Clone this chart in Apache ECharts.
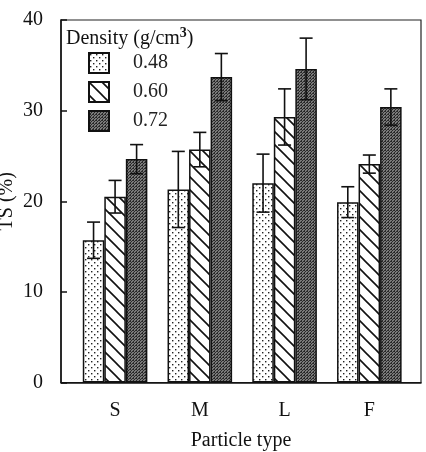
<!DOCTYPE html>
<html>
<head>
<meta charset="utf-8">
<script src="https://cdn.jsdelivr.net/npm/echarts@6/dist/echarts.min.js"></script>
<style>
  html, body { margin: 0; padding: 0; background: #fff; }
  #chart { width: 426px; height: 452px; }
</style>
</head>
<body>
<div id="chart"></div>
<script>
const categories = ['S', 'M', 'L', 'F'];
const densities = ['0.48', '0.60', '0.72'];
const ts048 = [15.7, 21.3, 22.0, 19.9];
const ts060 = [20.5, 25.7, 29.3, 24.1];
const ts072 = [24.65, 33.7, 34.6, 30.4];
const err048 = [2.0, 4.2, 3.2, 1.7];
const err060 = [1.8, 1.9, 3.1, 1.0];
const err072 = [1.6, 2.6, 3.4, 2.0];
const yTicks = [0, 10, 20, 30, 40];

const FONT = '"Liberation Serif", "DejaVu Serif", serif';
const FS = 20;
const BAR_PCT = 25.4;

// fill patterns
function dotted() {
  const c = document.createElement('canvas');
  c.width = 6; c.height = 6;
  const g = c.getContext('2d');
  g.fillStyle = '#fff'; g.fillRect(0, 0, 6, 6);
  g.fillStyle = '#222';
  g.fillRect(1, 1, 1.4, 1.4);
  g.fillRect(4, 4, 1.4, 1.4);
  return c;
}
function hatched() {
  const s = 13;
  const c = document.createElement('canvas');
  c.width = s; c.height = s;
  const g = c.getContext('2d');
  g.fillStyle = '#fff'; g.fillRect(0, 0, s, s);
  g.strokeStyle = '#111'; g.lineWidth = 1.6;
  g.beginPath();
  g.moveTo(-2, -2); g.lineTo(s + 2, s + 2);
  g.moveTo(-2, s - 2); g.lineTo(2, s + 2);
  g.moveTo(s - 2, -2); g.lineTo(s + 2, 2);
  g.stroke();
  return c;
}
function dark() {
  const c = document.createElement('canvas');
  c.width = 3; c.height = 3;
  const g = c.getContext('2d');
  g.fillStyle = '#7a7a7a'; g.fillRect(0, 0, 3, 3);
  g.fillStyle = '#2a2a2a';
  g.fillRect(0, 0, 1, 1); g.fillRect(2, 1, 1, 1); g.fillRect(1, 2, 1, 1);
  g.fillRect(1, 0, 1, 1);
  return c;
}

const fills = [dotted(), hatched(), dark()];
const means = [ts048, ts060, ts072];
const errs = [err048, err060, err072];

const errData = [];
for (let k = 0; k < 3; k++) {
  for (let i = 0; i < categories.length; i++) {
    errData.push([i, k, means[k][i], errs[k][i]]);
  }
}

const chart = echarts.init(document.getElementById('chart'));

const barSeries = densities.map((d, k) => ({
  name: d,
  type: 'bar',
  xAxisIndex: 1,
  yAxisIndex: 1,
  data: means[k],
  barWidth: BAR_PCT + '%',
  barGap: '0%',
  itemStyle: {
    color: { image: fills[k], repeat: 'repeat' },
    borderColor: '#111',
    borderWidth: 1.5
  },
  emphasis: { disabled: true },
  z: 2
}));

const option = {
  animation: false,
  backgroundColor: '#fff',
  title: {
    left: 66,
    top: 26,
    padding: 0,
    text: '{a|Density (g/cm}{s|3}{a|)}',
    textStyle: {
      rich: {
        a: { fontFamily: FONT, fontSize: FS, color: '#111', fontWeight: 'normal' },
        s: { fontFamily: FONT, fontSize: 14, color: '#111', verticalAlign: 'top', padding: [0, 0, 12, 0] }
      }
    }
  },
  legend: {
    data: densities,
    orient: 'vertical',
    left: 88,
    top: 52,
    padding: 0,
    itemWidth: 20,
    itemHeight: 20,
    itemGap: 7,
    icon: 'rect',
    selectedMode: false,
    textStyle: { fontFamily: FONT, fontSize: FS, color: '#222', padding: [0, 0, 0, 19] }
  },
  grid: [
    { left: 61, right: 5, top: 20, bottom: 69.5, outerBoundsMode: 'none', containLabel: false,
      show: true, borderColor: '#222', borderWidth: 1.2, backgroundColor: 'transparent' },
    { left: 72.7, width: 339, top: 20, bottom: 69.5, outerBoundsMode: 'none', containLabel: false }
  ],
  xAxis: [
    {
      gridIndex: 0, type: 'value', min: 0, max: 1,
      axisLine: { show: true, lineStyle: { color: '#111', width: 1.5 } },
      axisTick: { show: false }, axisLabel: { show: false }, splitLine: { show: false },
      name: 'Particle type', nameLocation: 'middle', nameGap: 48.5, nameMoveOverlap: false,
      nameTextStyle: { fontFamily: FONT, fontSize: FS, color: '#111' }
    },
    {
      gridIndex: 1, type: 'category', data: categories,
      axisLine: { show: false }, axisTick: { show: false },
      axisLabel: { fontFamily: FONT, fontSize: FS, color: '#111', margin: 18.5 }
    }
  ],
  yAxis: [
    {
      gridIndex: 0, type: 'value', min: yTicks[0], max: yTicks[yTicks.length - 1], interval: 10,
      axisLine: { show: true, lineStyle: { color: '#111', width: 1.5 } },
      axisTick: { show: true, inside: true, length: 6, lineStyle: { color: '#111', width: 1.5 } },
      axisLabel: { fontFamily: FONT, fontSize: FS, color: '#111', margin: 18 },
      splitLine: { show: false },
      name: 'TS (%)', nameLocation: 'middle', nameGap: 44, nameRotate: 90, nameMoveOverlap: false,
      nameTextStyle: { fontFamily: FONT, fontSize: FS, color: '#111' }
    },
    {
      gridIndex: 1, type: 'value', min: yTicks[0], max: yTicks[yTicks.length - 1], show: false
    }
  ],
  series: barSeries.concat([{
    type: 'custom',
    xAxisIndex: 1,
    yAxisIndex: 1,
    data: errData,
    z: 5,
    silent: true,
    renderItem: function (params, api) {
      const cat = api.value(0);
      const k = api.value(1);
      const m = api.value(2);
      const e = api.value(3);
      const band = api.size([1, 0])[0];
      const bw = band * BAR_PCT / 100;
      const cx = api.coord([cat, m])[0] + (k - 1) * bw;
      const yTop = api.coord([cat, m + e])[1];
      const yBot = api.coord([cat, m - e])[1];
      const cap = 6.5;
      const style = { stroke: '#111', lineWidth: 1.6, fill: null };
      return {
        type: 'group',
        children: [
          { type: 'line', shape: { x1: cx, y1: yTop, x2: cx, y2: yBot }, style: style },
          { type: 'line', shape: { x1: cx - cap, y1: yTop, x2: cx + cap, y2: yTop }, style: style },
          { type: 'line', shape: { x1: cx - cap, y1: yBot, x2: cx + cap, y2: yBot }, style: style }
        ]
      };
    }
  }])
};

chart.setOption(option);
</script>
</body>
</html>
